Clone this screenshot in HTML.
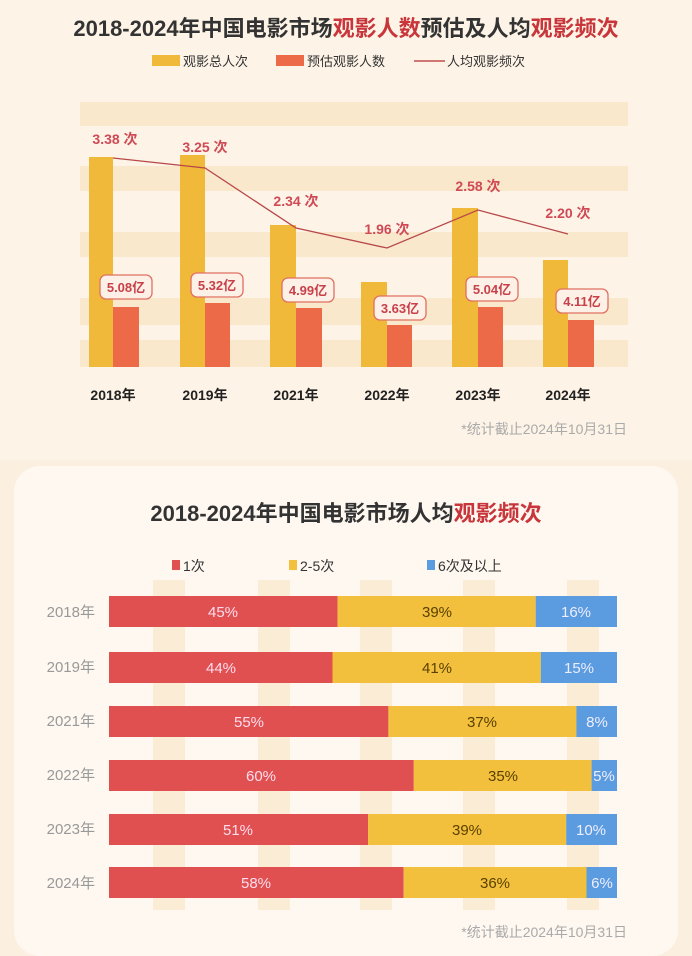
<!DOCTYPE html>
<html><head><meta charset="utf-8"><style>
body{margin:0;width:692px;height:945px;background:#fbefe0;font-family:"Liberation Sans","Noto Sans CJK SC",sans-serif;overflow:hidden;position:relative}
.a{position:absolute;white-space:nowrap}
</style></head><body>
<div class="a" style="left:0;top:0;width:692px;height:460px;background:#fdf3e6"></div>
<div class="a" style="left:14px;top:466px;width:664px;height:490px;background:#fef8f0;border-radius:26px"></div>
<svg class="a" style="left:0;top:0" width="692" height="945" xmlns="http://www.w3.org/2000/svg" font-family="Liberation Sans, Noto Sans CJK SC, sans-serif">
<text x="346" y="36" text-anchor="middle" font-size="22" font-weight="bold" fill="#333">2018-2024年中国电影市场<tspan fill="#c8353a">观影人数</tspan>预估及人均<tspan fill="#c8353a">观影频次</tspan></text>
<rect x="152" y="55" width="28" height="11" fill="#f0b93a"/><text x="183" y="66" font-size="13" fill="#333">观影总人次</text>
<rect x="276" y="55" width="28" height="11" fill="#ec6a47"/><text x="307" y="66" font-size="13" fill="#333">预估观影人数</text>
<line x1="414" y1="61" x2="445" y2="61" stroke="#c0504d" stroke-width="1.5"/><text x="447" y="66" font-size="13" fill="#333">人均观影频次</text>
<g fill="#f9e8cc">
<rect x="80" y="102" width="548" height="24"/><rect x="80" y="166" width="548" height="25"/><rect x="80" y="232" width="548" height="25"/><rect x="80" y="298" width="548" height="27"/><rect x="80" y="340" width="548" height="27"/>
</g>
<g fill="#f0b93a">
<rect x="89" y="157" width="24" height="210"/><rect x="180" y="155" width="25" height="212"/><rect x="270" y="225" width="26" height="142"/><rect x="361" y="282" width="26" height="85"/><rect x="452" y="208" width="26" height="159"/><rect x="543" y="260" width="25" height="107"/>
</g>
<g fill="#ec6a47">
<rect x="113" y="307" width="26" height="60"/><rect x="205" y="303" width="25" height="64"/><rect x="296" y="308" width="26" height="59"/><rect x="387" y="325" width="25" height="42"/><rect x="478" y="307" width="25" height="60"/><rect x="568" y="320" width="26" height="47"/>
</g>
<polyline points="113,158 205,168 296,228 387,248 478,210 568,234" fill="none" stroke="#b84848" stroke-width="1.3"/>
<g font-size="14" font-weight="bold" fill="#d04a55" text-anchor="middle">
<text x="115" y="144">3.38 次</text><text x="205" y="152">3.25 次</text><text x="296" y="206">2.34 次</text><text x="387" y="234">1.96 次</text><text x="478" y="191">2.58 次</text><text x="568" y="218">2.20 次</text>
</g>
<g fill="#fdf0e6" stroke="#e07060" stroke-width="1.3">
<rect x="100" y="275" width="52" height="24" rx="6"/><rect x="191" y="273" width="52" height="24" rx="6"/><rect x="282" y="278" width="52" height="24" rx="6"/><rect x="374" y="296" width="52" height="24" rx="6"/><rect x="466" y="277" width="52" height="24" rx="6"/><rect x="556" y="289" width="52" height="24" rx="6"/>
</g>
<g font-size="13" font-weight="bold" fill="#c8404a" text-anchor="middle">
<text x="126" y="292">5.08亿</text><text x="217" y="290">5.32亿</text><text x="308" y="295">4.99亿</text><text x="400" y="313">3.63亿</text><text x="492" y="294">5.04亿</text><text x="582" y="306">4.11亿</text>
</g>
<g font-size="14" font-weight="bold" fill="#222" text-anchor="middle">
<text x="113" y="400">2018年</text><text x="205" y="400">2019年</text><text x="296" y="400">2021年</text><text x="387" y="400">2022年</text><text x="478" y="400">2023年</text><text x="568" y="400">2024年</text>
</g>
<text x="627" y="434" text-anchor="end" font-size="14" fill="#aaa">*统计截止2024年10月31日</text>

<text x="346" y="521" text-anchor="middle" font-size="22" font-weight="bold" fill="#333">2018-2024年中国电影市场人均<tspan fill="#c8353a">观影频次</tspan></text>
<rect x="172" y="560" width="8" height="10" fill="#e05050"/><text x="183" y="571" font-size="14" fill="#333">1次</text>
<rect x="289" y="560" width="8" height="10" fill="#f2c03c"/><text x="300" y="571" font-size="14" fill="#333">2-5次</text>
<rect x="427" y="560" width="8" height="10" fill="#5b9be0"/><text x="438" y="571" font-size="14" fill="#333">6次及以上</text>
<g fill="#fbecd6">
<rect x="153" y="580" width="32" height="330"/><rect x="258" y="580" width="32" height="330"/><rect x="360" y="580" width="32" height="330"/><rect x="463" y="580" width="32" height="330"/><rect x="567" y="580" width="32" height="330"/>
</g>
<g font-size="15" fill="#999" text-anchor="end">
<text x="95" y="617">2018年</text><text x="95" y="672">2019年</text><text x="95" y="726">2021年</text><text x="95" y="780">2022年</text><text x="95" y="834">2023年</text><text x="95" y="888">2024年</text>
</g>
<g id="bars"></g>
<rect x="109" y="596" width="228.6" height="31" fill="#e05050"/><rect x="337.6" y="596" width="198.1" height="31" fill="#f2c03c"/><rect x="535.7" y="596" width="81.3" height="31" fill="#5b9be0"/>
<rect x="109" y="652" width="223.5" height="31" fill="#e05050"/><rect x="332.5" y="652" width="208.3" height="31" fill="#f2c03c"/><rect x="540.8" y="652" width="76.2" height="31" fill="#5b9be0"/>
<rect x="109" y="706" width="279.4" height="31" fill="#e05050"/><rect x="388.4" y="706" width="188" height="31" fill="#f2c03c"/><rect x="576.4" y="706" width="40.6" height="31" fill="#5b9be0"/>
<rect x="109" y="760" width="304.8" height="31" fill="#e05050"/><rect x="413.8" y="760" width="177.8" height="31" fill="#f2c03c"/><rect x="591.6" y="760" width="25.4" height="31" fill="#5b9be0"/>
<rect x="109" y="814" width="259.1" height="31" fill="#e05050"/><rect x="368.1" y="814" width="198.1" height="31" fill="#f2c03c"/><rect x="566.2" y="814" width="50.8" height="31" fill="#5b9be0"/>
<rect x="109" y="867" width="294.6" height="31" fill="#e05050"/><rect x="403.6" y="867" width="182.9" height="31" fill="#f2c03c"/><rect x="586.5" y="867" width="30.5" height="31" fill="#5b9be0"/>
<g font-size="15" text-anchor="middle">
<text x="223" y="617" fill="#fde">45%</text><text x="437" y="617" fill="#5a4000">39%</text><text x="576" y="617" fill="#eef">16%</text>
<text x="221" y="673" fill="#fde">44%</text><text x="437" y="673" fill="#5a4000">41%</text><text x="579" y="673" fill="#eef">15%</text>
<text x="249" y="727" fill="#fde">55%</text><text x="482" y="727" fill="#5a4000">37%</text><text x="597" y="727" fill="#eef">8%</text>
<text x="261" y="781" fill="#fde">60%</text><text x="503" y="781" fill="#5a4000">35%</text><text x="604" y="781" fill="#eef">5%</text>
<text x="238" y="835" fill="#fde">51%</text><text x="467" y="835" fill="#5a4000">39%</text><text x="591" y="835" fill="#eef">10%</text>
<text x="256" y="888" fill="#fde">58%</text><text x="495" y="888" fill="#5a4000">36%</text><text x="602" y="888" fill="#eef">6%</text>
</g>
<text x="627" y="937" text-anchor="end" font-size="14" fill="#aaa">*统计截止2024年10月31日</text>
</svg>
</body></html>
